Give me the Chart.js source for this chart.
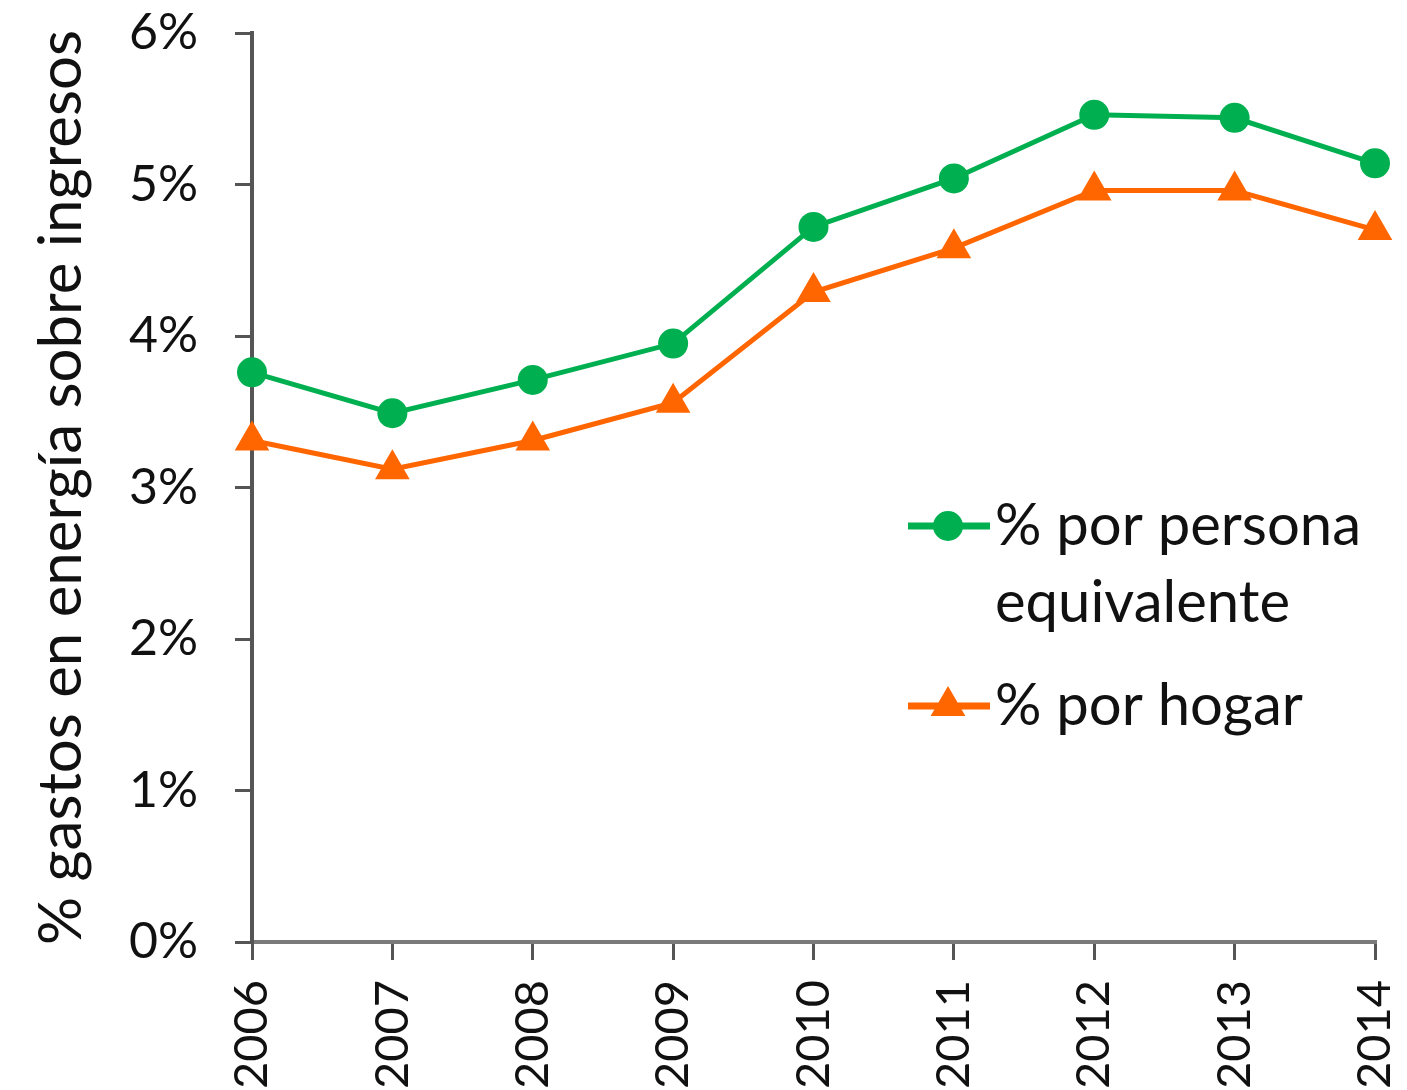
<!DOCTYPE html>
<html>
<head>
<meta charset="utf-8">
<script src="https://cdn.jsdelivr.net/npm/chart.js@4"></script>
<style>
  body { margin: 0; background: #fff; }
  #wrap { width: 1407px; height: 1090px; position: relative; }
</style>
</head>
<body>
<div id="wrap"><canvas id="myChart"></canvas></div>
<script>
var years = ['2006','2007','2008','2009','2010','2011','2012','2013','2014'];
var perPersona = [3.76, 3.49, 3.71, 3.95, 4.72, 5.04, 5.46, 5.44, 5.14];
var perHogar = [3.31, 3.12, 3.31, 3.56, 4.29, 4.58, 4.96, 4.96, 4.70];
var legendLines = [['% por persona', 'equivalente'], ['% por hogar']];
var yTitle = '% gastos en energía sobre ingresos';

var green = '#00b050',
    orange = '#ff6600',
    axisColor = '#555555',
    fontName = 'Lato, "Liberation Sans", sans-serif';

// legend drawn inside the plot, like the original
var insideLegend = {
    id: 'insideLegend',
    afterDraw: function(chart) {
        var ctx = chart.ctx;
        var rows = [526, 706];
        ctx.save();
        chart.data.datasets.forEach(function(ds, i) {
            var y = rows[i];
            ctx.strokeStyle = ds.borderColor;
            ctx.lineWidth = 7;
            ctx.beginPath();
            ctx.moveTo(908, y);
            ctx.lineTo(990, y);
            ctx.stroke();
            ctx.fillStyle = ds.pointBackgroundColor;
            ctx.beginPath();
            var r = ds.pointRadius;
            if (ds.pointStyle === 'triangle') {
                ctx.moveTo(948, y - r);
                ctx.lineTo(948 + r * 0.87, y + r * 0.5);
                ctx.lineTo(948 - r * 0.87, y + r * 0.5);
                ctx.closePath();
            } else {
                ctx.arc(948, y, r, 0, Math.PI * 2);
            }
            ctx.fill();
            ctx.fillStyle = '#111';
            ctx.font = '58px ' + fontName;
            ctx.textBaseline = 'middle';
            ctx.textAlign = 'left';
            legendLines[i].forEach(function(t, k) {
                ctx.fillText(t, 995, y + k * 77);
            });
        });
        ctx.restore();
    }
};

window.onload = function() {
    var ctx = document.getElementById('myChart').getContext('2d');
    window.myLine = new Chart(ctx, {
        type: 'line',
        data: {
            labels: years,
            datasets: [
                {
                    label: legendLines[0].join(' '),
                    data: perPersona,
                    borderColor: green,
                    backgroundColor: green,
                    pointBackgroundColor: green,
                    pointBorderColor: green,
                    borderWidth: 5,
                    pointRadius: 15,
                    pointBorderWidth: 0,
                    pointStyle: 'circle',
                    tension: 0
                },
                {
                    label: legendLines[1].join(' '),
                    data: perHogar,
                    borderColor: orange,
                    backgroundColor: orange,
                    pointBackgroundColor: orange,
                    pointBorderColor: orange,
                    borderWidth: 5,
                    pointRadius: 20,
                    pointBorderWidth: 0,
                    pointStyle: 'triangle',
                    tension: 0
                }
            ]
        },
        options: {
            responsive: true,
            maintainAspectRatio: false,
            animation: false,
            layout: { padding: { top: 33, right: 32, left: 0, bottom: 0 } },
            plugins: {
                legend: { display: false },
                tooltip: { enabled: false }
            },
            scales: {
                x: {
                    offset: false,
                    grid: { drawOnChartArea: false, drawTicks: true, tickLength: 18, color: axisColor, lineWidth: 3 },
                    border: { display: true, color: '#7a7a7a', width: 4 },
                    ticks: {
                        color: '#111',
                        font: { family: fontName, size: 47 },
                        minRotation: 90,
                        maxRotation: 90,
                        padding: 20,
                        autoSkip: false
                    },
                    afterFit: function(scale) {
                        scale.height = 148;
                        scale.paddingLeft = 0;
                        scale.paddingRight = 0;
                    }
                },
                y: {
                    min: 0,
                    max: 6,
                    grid: { drawOnChartArea: false, drawTicks: true, tickLength: 17, color: axisColor, lineWidth: 3 },
                    border: { display: true, color: axisColor, width: 4 },
                    ticks: {
                        stepSize: 1,
                        color: '#111',
                        font: { family: fontName, size: 50 },
                        padding: 37,
                        callback: function(v) { return v + '%'; }
                    },
                    title: {
                        display: true,
                        text: yTitle,
                        color: '#111',
                        font: { family: fontName, size: 60 },
                        padding: { top: 26, bottom: 0 }
                    },
                    afterFit: function(scale) {
                        scale.width = 252;
                        scale.paddingTop = 0;
                        scale.paddingBottom = 0;
                    }
                }
            }
        },
        plugins: [insideLegend]
    });
};
</script>
</body>
</html>
